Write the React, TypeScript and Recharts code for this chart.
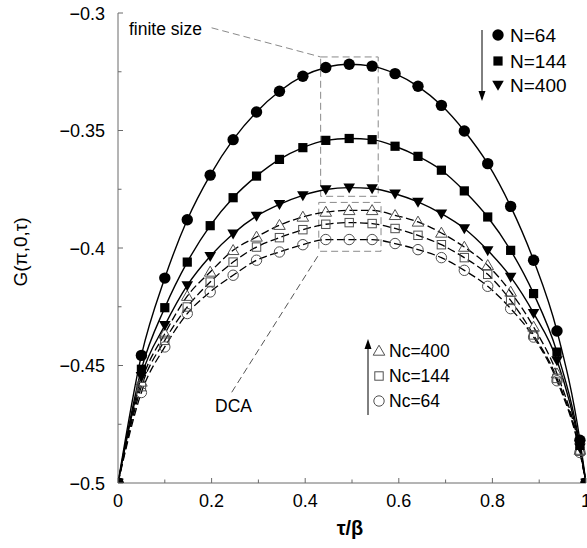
import { LineChart, Line, XAxis, YAxis, ReferenceArea, ReferenceLine } from 'recharts';

// tau/beta grid shared by all six curves
const tau = [0, 0.05, 0.1, 0.148, 0.197, 0.246, 0.296, 0.345, 0.395, 0.444, 0.494, 0.543, 0.592, 0.641, 0.691, 0.74, 0.79, 0.839, 0.888, 0.938, 0.987, 1];

// finite size (solid, filled markers)
const gN64  = [-0.5, -0.4457, -0.4128, -0.388, -0.369, -0.3539, -0.3421, -0.3333, -0.3269, -0.3232, -0.3218, -0.3226, -0.3258, -0.3312, -0.3393, -0.3502, -0.3641, -0.3823, -0.4052, -0.4353, -0.4818, -0.5];
const gN144 = [-0.5, -0.4516, -0.4254, -0.406, -0.3905, -0.3786, -0.3694, -0.3623, -0.3573, -0.3542, -0.3534, -0.3539, -0.3567, -0.361, -0.3669, -0.3757, -0.3868, -0.401, -0.4194, -0.4443, -0.484, -0.5];
const gN400 = [-0.5, -0.4545, -0.4329, -0.4159, -0.4035, -0.3939, -0.3864, -0.3814, -0.3776, -0.3751, -0.3743, -0.3747, -0.3769, -0.3804, -0.3854, -0.3917, -0.401, -0.4123, -0.4277, -0.4478, -0.485, -0.5];

// DCA (dashed, open markers)
const gNc400 = [-0.5, -0.457, -0.4365, -0.4205, -0.4102, -0.401, -0.3953, -0.3903, -0.3868, -0.3847, -0.384, -0.384, -0.3861, -0.3889, -0.3936, -0.3996, -0.4074, -0.4187, -0.4336, -0.4535, -0.486, -0.5];
const gNc144 = [-0.5, -0.459, -0.4393, -0.4251, -0.4145, -0.406, -0.3996, -0.3956, -0.3922, -0.3899, -0.3892, -0.3896, -0.3917, -0.3946, -0.3986, -0.4041, -0.4112, -0.4223, -0.437, -0.4555, -0.4865, -0.5];
const gNc64  = [-0.5, -0.4615, -0.4421, -0.4279, -0.4187, -0.4116, -0.4052, -0.4017, -0.3986, -0.3964, -0.3964, -0.3964, -0.3981, -0.4007, -0.4041, -0.4095, -0.4163, -0.4258, -0.4379, -0.4565, -0.487, -0.5];

const xTicks  = [0, 0.1, 0.2, 0.3, 0.4, 0.5, 0.6, 0.7, 0.8, 0.9, 1];
const xLabels = ['0', '', '0.2', '', '0.4', '', '0.6', '', '0.8', '', '1'];
const yTicks  = [-0.5, -0.475, -0.45, -0.425, -0.4, -0.375, -0.35, -0.325, -0.3];
const yLabels = ['\u22120.5', '', '\u22120.45', '', '\u22120.4', '', '\u22120.35', '', '\u22120.3'];

// annotation boxes / leader lines, in data units
const finiteBox = { x1: 0.433, x2: 0.556, y1: -0.378, y2: -0.3187 };
const dcaBox    = { x1: 0.429, x2: 0.562, y1: -0.4014, y2: -0.3806 };
const finiteLeader = [{ x: 0.2, y: -0.3063 }, { x: 0.433, y: -0.3187 }];
const dcaLeader    = [{ x: 0.243, y: -0.4614 }, { x: 0.431, y: -0.4022 }];

const data = tau.map((t, i) => ({
  t, n64: gN64[i], n144: gN144[i], n400: gN400[i],
  nc400: gNc400[i], nc144: gNc144[i], nc64: gNc64[i],
}));

const FONT = '"Liberation Sans", Arial, Helvetica, sans-serif';
const AXIS = '#6a6a6a';
const OPEN = '#505050';

const shape = (kind: string, cx: number, cy: number, key?: any) => {
  switch (kind) {
    case 'circle':  return <circle key={key} cx={cx} cy={cy} r={5.7} fill="#000" />;
    case 'square':  return <rect key={key} x={cx - 4.6} y={cy - 4.6} width={9.2} height={9.2} fill="#000" />;
    case 'triDown': return <polygon key={key} points={`${cx - 5.8},${cy - 4.2} ${cx + 5.8},${cy - 4.2} ${cx},${cy + 5.8}`} fill="#000" />;
    case 'oTri':    return <polygon key={key} points={`${cx},${cy - 5.8} ${cx - 5.8},${cy + 4.2} ${cx + 5.8},${cy + 4.2}`} fill="none" stroke={OPEN} strokeWidth={1} />;
    case 'oSquare': return <rect key={key} x={cx - 4.2} y={cy - 4.2} width={8.4} height={8.4} fill="none" stroke={OPEN} strokeWidth={1} />;
    default:        return <circle key={key} cx={cx} cy={cy} r={5.2} fill="none" stroke={OPEN} strokeWidth={1} />;
  }
};

const dot = (kind: string) => (p: any) => {
  if (p.cx == null || p.cy == null) return <g key={p.index} />;
  return shape(kind, p.cx, p.cy, p.index);
};

const BottomTick = (p: any) => {
  const lab = xLabels[p.index];
  return (
    <g>
      <line x1={p.x} x2={p.x} y1={p.y} y2={p.y - (lab ? 5 : 3.5)} stroke={AXIS} />
      {lab && <text x={p.x} y={p.y + 24} textAnchor="middle" fontSize={18} fontFamily={FONT} fill="#000">{lab}</text>}
    </g>
  );
};
const TopTick = (p: any) => (
  <line x1={p.x} x2={p.x} y1={p.y} y2={p.y + (xLabels[p.index] ? 5 : 3.5)} stroke={AXIS} />
);
const LeftTick = (p: any) => {
  const lab = yLabels[p.index];
  return (
    <g>
      <line x1={p.x} x2={p.x + (lab ? 5 : 3.5)} y1={p.y} y2={p.y} stroke={AXIS} />
      {lab && <text x={p.x - 13} y={p.y + 6.5} textAnchor="end" fontSize={18} fontFamily={FONT} fill="#000">{lab}</text>}
    </g>
  );
};
const RightTick = (p: any) => (
  <line x1={p.x} x2={p.x - (yLabels[p.index] ? 5 : 3.5)} y1={p.y} y2={p.y} stroke={AXIS} />
);

const Overlay = () => (
  <svg width={587} height={548} style={{ position: 'absolute', left: 0, top: 0, pointerEvents: 'none' }} fontFamily={FONT}>
    <text x={129} y={35} fontSize={17.5}>finite size</text>
    <text x={215} y={412} fontSize={17.5}>DCA</text>

    {/* finite-size legend */}
    <line x1={482} x2={482} y1={30} y2={99} stroke="#000" strokeWidth={1} />
    <polygon points="478.5,91 485.5,91 482,101" fill="#000" />
    {shape('circle', 498, 35)}
    {shape('square', 498, 61)}
    {shape('triDown', 498, 85)}
    <text x={510} y={42} fontSize={19}>N=64</text>
    <text x={510} y={68} fontSize={19}>N=144</text>
    <text x={510} y={92} fontSize={19}>N=400</text>

    {/* DCA legend */}
    <line x1={368} x2={368} y1={343} y2={415} stroke="#000" strokeWidth={1} />
    <polygon points="364.5,349 371.5,349 368,339" fill="#000" />
    {shape('oTri', 379, 351)}
    {shape('oSquare', 379, 376)}
    {shape('oCircle', 379, 401)}
    <text x={389} y={357} fontSize={17.5}>Nc=400</text>
    <text x={389} y={382} fontSize={17.5}>Nc=144</text>
    <text x={389} y={407} fontSize={17.5}>Nc=64</text>

    <text x={0} y={0} fontSize={19} textAnchor="middle" transform="translate(27,252) rotate(-90)">G(π,0,τ)</text>
    <text x={350} y={535} fontSize={20} fontWeight="bold" textAnchor="middle">τ/β</text>
  </svg>
);

export default function App() {
  return (
    <div style={{ position: 'absolute', left: 0, top: 0, width: 587, height: 548, background: '#fff' }}>
      <LineChart width={587} height={548} data={data} margin={{ top: 13, right: 1, bottom: 0, left: 0 }}>
        <XAxis dataKey="t" type="number" domain={[0, 1]} ticks={xTicks} interval={0} allowDataOverflow
          tickSize={0} tickMargin={0} tickLine={false} tick={BottomTick} axisLine={{ stroke: AXIS }} height={65} />
        <XAxis xAxisId="top" orientation="top" dataKey="t" type="number" domain={[0, 1]} ticks={xTicks} interval={0} allowDataOverflow
          tickSize={0} tickMargin={0} tickLine={false} tick={TopTick} axisLine={{ stroke: AXIS }} height={0} />
        <YAxis type="number" domain={[-0.5, -0.3]} ticks={yTicks} interval={0} allowDataOverflow
          tickSize={0} tickMargin={0} tickLine={false} tick={LeftTick} axisLine={{ stroke: AXIS }} width={118} />
        <YAxis yAxisId="right" orientation="right" type="number" domain={[-0.5, -0.3]} ticks={yTicks} interval={0} allowDataOverflow
          tickSize={0} tickMargin={0} tickLine={false} tick={RightTick} axisLine={{ stroke: AXIS }} width={0} />

        <ReferenceArea {...finiteBox} fill="none" stroke="#8a8a8a" strokeDasharray="7 4" ifOverflow="visible" />
        <ReferenceArea {...dcaBox} fill="none" stroke="#8a8a8a" strokeDasharray="7 4" ifOverflow="visible" />
        <ReferenceLine segment={finiteLeader} stroke="#8a8a8a" strokeDasharray="7 4" ifOverflow="visible" />
        <ReferenceLine segment={dcaLeader} stroke="#555" strokeDasharray="7 4" ifOverflow="visible" />

        <Line dataKey="nc64" type="monotone" stroke="#000" strokeWidth={1.3} strokeDasharray="8 3.5" dot={dot('oCircle')} isAnimationActive={false} />
        <Line dataKey="nc144" type="monotone" stroke="#000" strokeWidth={1.3} strokeDasharray="8 3.5" dot={dot('oSquare')} isAnimationActive={false} />
        <Line dataKey="nc400" type="monotone" stroke="#000" strokeWidth={1.3} strokeDasharray="8 3.5" dot={dot('oTri')} isAnimationActive={false} />
        <Line dataKey="n400" type="monotone" stroke="#000" strokeWidth={1.4} dot={dot('triDown')} isAnimationActive={false} />
        <Line dataKey="n144" type="monotone" stroke="#000" strokeWidth={1.4} dot={dot('square')} isAnimationActive={false} />
        <Line dataKey="n64" type="monotone" stroke="#000" strokeWidth={1.4} dot={dot('circle')} isAnimationActive={false} />
      </LineChart>
      <Overlay />
    </div>
  );
}
